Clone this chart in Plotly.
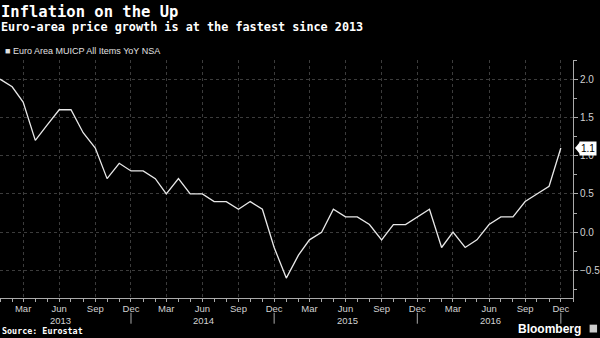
import plotly.graph_objects as go
import pandas as pd

# ---- data ----
dates = pd.date_range("2013-01-01", "2016-12-01", freq="MS").strftime("%Y-%m-%d").tolist()
hicp_yoy = [
    2.0, 1.9, 1.7, 1.2, 1.4, 1.6, 1.6, 1.3, 1.1, 0.7, 0.9, 0.8,      # 2013
    0.8, 0.7, 0.5, 0.7, 0.5, 0.5, 0.4, 0.4, 0.3, 0.4, 0.3, -0.2,     # 2014
    -0.6, -0.3, -0.1, 0.0, 0.3, 0.2, 0.2, 0.1, -0.1, 0.1, 0.1, 0.2,  # 2015
    0.3, -0.2, 0.0, -0.2, -0.1, 0.1, 0.2, 0.2, 0.4, 0.5, 0.6, 1.1,   # 2016
]
years = [2013, 2014, 2015, 2016]
quarter_months = ["03", "06", "09", "12"]
quarter_labels = ["Mar", "Jun", "Sep", "Dec"]
tick_vals = [f"{y}-{m}-01" for y in years for m in quarter_months]
tick_text = [lab for y in years for lab in quarter_labels]
year_label_pos = [f"{y}-06-05" for y in years]
year_sep = [f"{y}-12-01" for y in years]
y_ticks = [-0.5, 0.0, 0.5, 1.0, 1.5, 2.0]
last_value = hicp_yoy[-1]

title = "Inflation on the Up"
subtitle = "Euro-area price growth is at the fastest since 2013"
series_name = "Euro Area MUICP All Items YoY NSA"
source = "Source: Eurostat"

TICK_FONT = dict(family="Liberation Sans, Arial, sans-serif", size=9.5, color="#d2d2d2")
MONO = "DejaVu Sans Mono, monospace"

fig = go.Figure()
fig.add_trace(go.Scatter(
    x=dates, y=hicp_yoy, mode="lines", name=series_name,
    line=dict(color="#e8e8e8", width=1.3), showlegend=False,
))

fig.update_layout(
    width=600, height=338,
    margin=dict(l=0, r=27, t=60, b=40),
    paper_bgcolor="#000000", plot_bgcolor="#000000",
    xaxis=dict(
        type="date", range=["2013-01-01", "2017-01-01"],
        tickmode="array", tickvals=tick_vals, ticktext=tick_text,
        tickfont=TICK_FONT, ticks="outside", ticklen=2, tickcolor="#aaaaaa",
        showline=True, linecolor="#aaaaaa", linewidth=1,
        showgrid=True, gridcolor="#3c3c3c", griddash="dot", gridwidth=1,
        zeroline=False,
        minor=dict(dtick="M1", tick0="2013-01-01", ticks="outside", ticklen=3,
                   tickcolor="#aaaaaa", showgrid=False),
    ),
    yaxis=dict(
        side="right", range=[-0.86, 2.25],
        tickmode="array", tickvals=y_ticks, tickformat=".1f",
        tickfont=dict(TICK_FONT, size=10), ticks="outside", ticklen=4, tickcolor="#aaaaaa",
        showline=True, linecolor="#aaaaaa", linewidth=1,
        showgrid=True, gridcolor="#3c3c3c", griddash="dot", gridwidth=1,
        zeroline=False,
        minor=dict(dtick=0.25, ticks="outside", ticklen=3, tickcolor="#aaaaaa", showgrid=False),
    ),
)

annotations = [
    dict(text=f"<b>{title}</b>", xref="paper", yref="paper", x=-0.002, y=1.202,
         xanchor="left", yanchor="middle", showarrow=False,
         font=dict(family=MONO, size=15.5, color="#ffffff")),
    dict(text=f"<b>{subtitle}</b>", xref="paper", yref="paper", x=-0.002, y=1.139,
         xanchor="left", yanchor="middle", showarrow=False,
         font=dict(family=MONO, size=11.8, color="#ffffff")),
    dict(text=f"■ {series_name}", xref="paper", yref="paper", x=0.006, y=1.036,
         xanchor="left", yanchor="middle", showarrow=False,
         font=dict(family="Liberation Sans, Arial, sans-serif", size=9, color="#e0e0e0")),
    dict(text=f"<b>{source}</b>", xref="paper", yref="paper", x=0.0, y=-0.139,
         xanchor="left", yanchor="middle", showarrow=False,
         font=dict(family=MONO, size=8.4, color="#ffffff")),
    dict(text="<b>Bloomberg</b>", xref="paper", yref="paper", x=1.018, y=-0.13,
         xanchor="right", yanchor="middle", showarrow=False,
         font=dict(family="Liberation Sans, Arial, sans-serif", size=12, color="#ffffff")),
    dict(text=f"{last_value:.1f}", xref="paper", yref="y", x=1.0, y=last_value,
         xanchor="left", yanchor="middle", xshift=6, showarrow=False,
         bgcolor="#ffffff", borderpad=1,
         font=dict(family="Liberation Sans, Arial, sans-serif", size=10, color="#000000")),
]
for yr, pos in zip(years, year_label_pos):
    annotations.append(dict(text=str(yr), xref="x", yref="paper", x=pos, y=-0.093,
                            xanchor="center", yanchor="middle", showarrow=False,
                            font=TICK_FONT))
fig.update_layout(annotations=annotations)

shapes = []
for d in year_sep:
    shapes.append(dict(type="line", xref="x", yref="paper", x0=d, x1=d,
                       y0=-0.062, y1=-0.108, line=dict(color="#aaaaaa", width=1)))
# pointer of the last-value label
shapes.append(dict(type="path", xref="paper", yref="y", xsizemode="pixel", ysizemode="pixel",
                   xanchor=1.0, yanchor=last_value,
                   path="M 2,0 L 7,6 L 7,-6 Z", fillcolor="#ffffff", line=dict(width=0)))
# Bloomberg mark
shapes.append(dict(type="rect", xref="paper", yref="paper", x0=1.029, x1=1.042,
                   y0=-0.112, y1=-0.145, fillcolor="#cccccc", line=dict(width=0)))
fig.update_layout(shapes=shapes)

fig.write_html("out.html")
